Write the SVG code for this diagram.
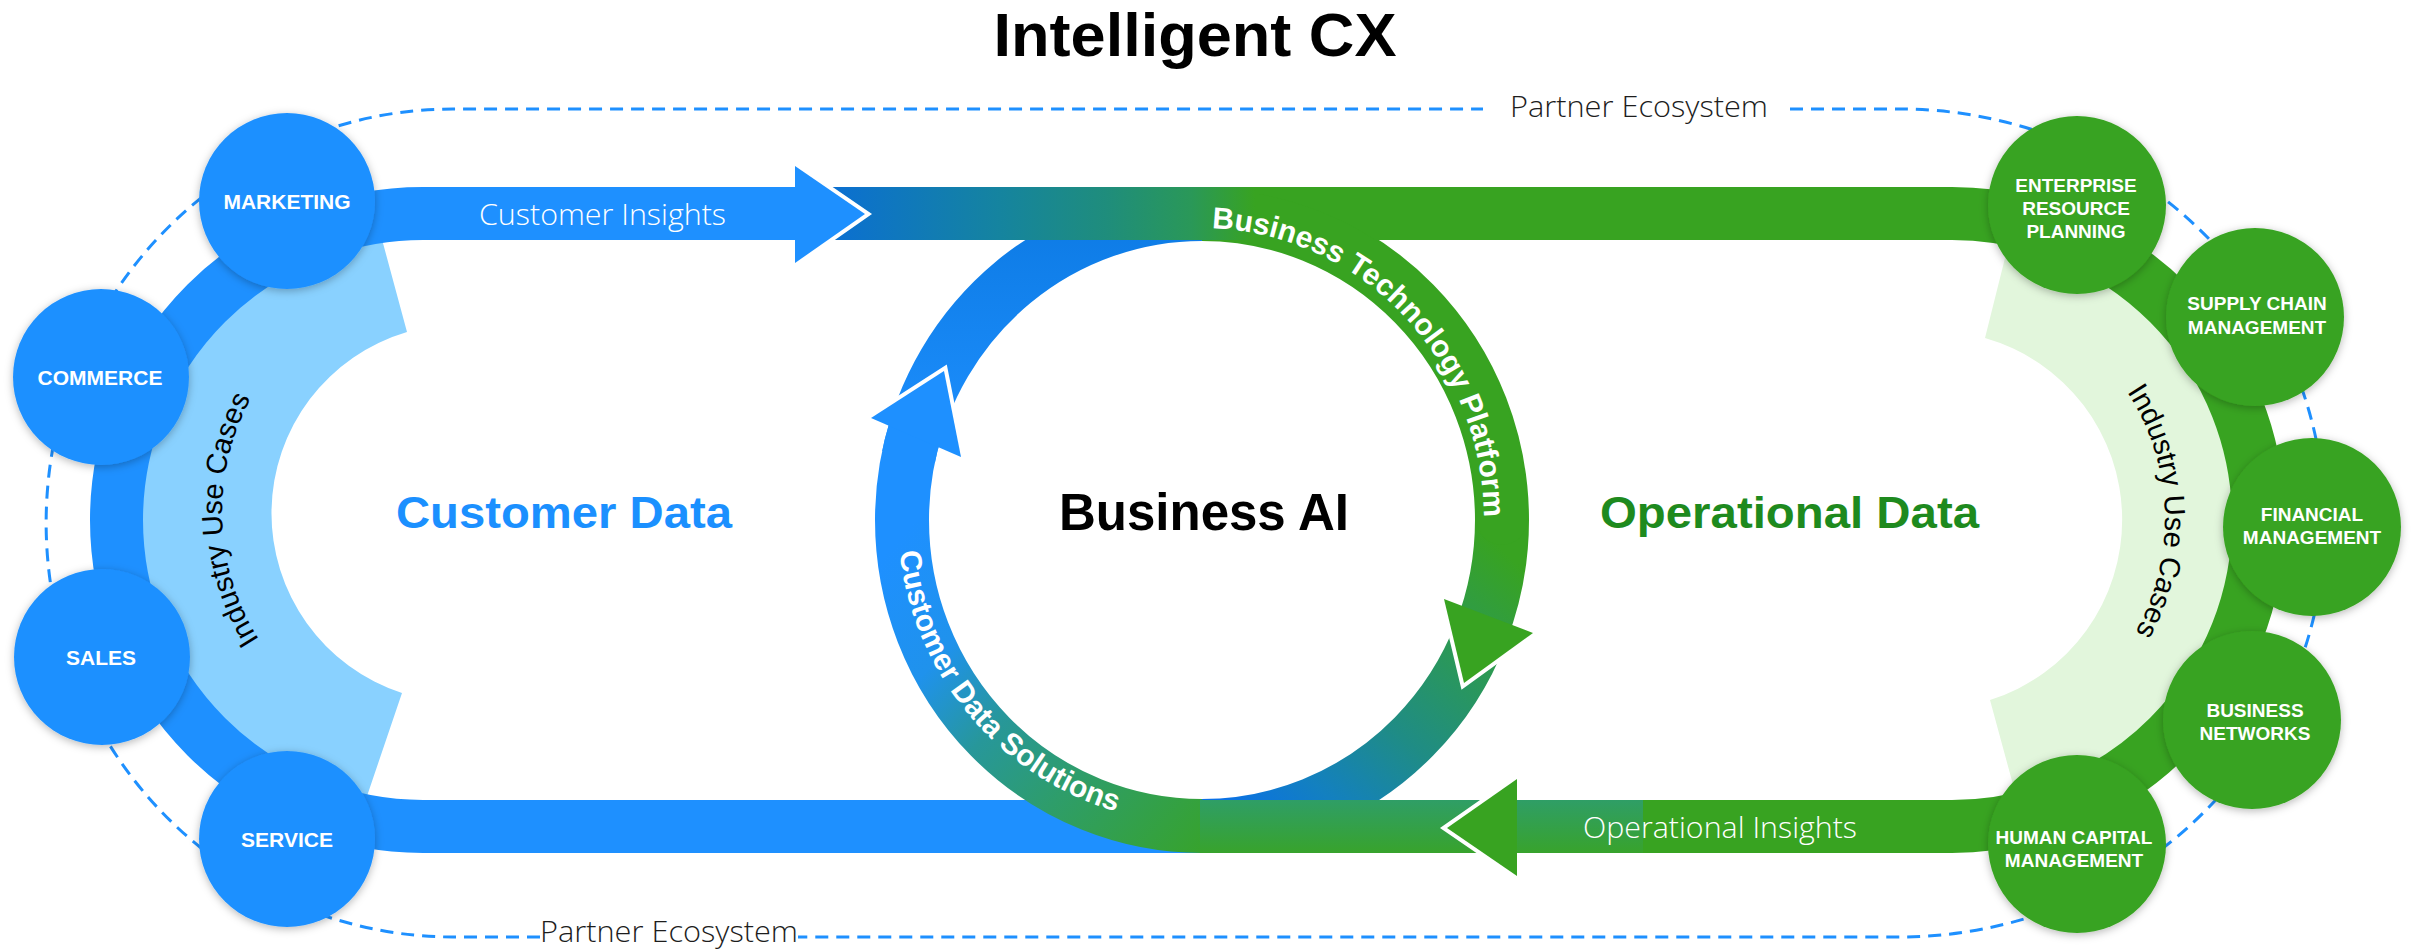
<svg xmlns="http://www.w3.org/2000/svg" width="2413" height="950" viewBox="0 0 2413 950">
<defs>
<style>
.lbl{font-family:"Liberation Sans",Arial,sans-serif;font-weight:bold;font-size:21px;fill:#fff;text-anchor:middle}
.lbl2{font-family:"Liberation Sans",Arial,sans-serif;font-weight:bold;font-size:19px;fill:#fff;text-anchor:middle}
.light{font-family:"Open Sans","Liberation Sans",sans-serif;font-weight:300;font-size:30px}
.ring{font-family:"Liberation Sans",Arial,sans-serif;font-weight:bold;font-size:30px;fill:#fff}
.iuc{font-family:"Liberation Sans",Arial,sans-serif;font-size:29px;fill:#000}
.dash{fill:none;stroke:#1e90ff;stroke-width:3;stroke-dasharray:13 8}
.blue{fill:#1e90ff}
.green{fill:#38a321}
.wedge{fill:none;stroke:#fff;stroke-width:8;stroke-linejoin:miter}
</style>
<filter id="sh" x="-20%" y="-20%" width="140%" height="140%">
<feDropShadow dx="0" dy="2" stdDeviation="4" flood-color="#000" flood-opacity="0.28"/>
</filter>
<linearGradient id="gTop" gradientUnits="userSpaceOnUse" x1="830" y1="0" x2="1255" y2="0">
<stop offset="0" stop-color="#0b6fd2"/>
<stop offset="0.4" stop-color="#15849f"/>
<stop offset="0.65" stop-color="#1f8d7c"/>
<stop offset="0.85" stop-color="#2a9858"/>
<stop offset="1" stop-color="#38a321"/>
</linearGradient>
<linearGradient id="gR" gradientUnits="userSpaceOnUse" x1="1480" y1="530" x2="1230" y2="810">
<stop offset="0" stop-color="#38a321"/>
<stop offset="0.25" stop-color="#2d9a50"/>
<stop offset="0.55" stop-color="#1f8c85"/>
<stop offset="0.8" stop-color="#1380c0"/>
<stop offset="1" stop-color="#0a70e6"/>
</linearGradient>
<linearGradient id="gBL" gradientUnits="userSpaceOnUse" x1="1202" y1="853" x2="880" y2="560">
<stop offset="0" stop-color="#37a32c"/>
<stop offset="0.33" stop-color="#2e9d6a"/>
<stop offset="0.55" stop-color="#27979a"/>
<stop offset="0.75" stop-color="#1f92ec"/>
<stop offset="1" stop-color="#1e90ff"/>
</linearGradient>
<linearGradient id="gTL" gradientUnits="userSpaceOnUse" x1="0" y1="460" x2="0" y2="230">
<stop offset="0" stop-color="#1e90ff"/>
<stop offset="1" stop-color="#0e7ce6"/>
</linearGradient>
<linearGradient id="gBot" x1="0" y1="0" x2="0" y2="1">
<stop offset="0" stop-color="#2f9e66"/>
<stop offset="1" stop-color="#38a32c"/>
</linearGradient>
<path id="pIucL" d="M 282.9 670.6 A 237 237 0 0 1 272.2 366.1"/>
<path id="pIucR" d="M 2105.4 363.8 A 232 232 0 0 1 2115.8 661.8"/>
<path id="pBTP" d="M 1211.8 228.2 A 282 292 0 0 1 1479.7 570.7"/>
<path id="pCDS" d="M 899.7 551.8 A 304 304 0 0 0 1175.5 822.8"/>
</defs>
<rect width="2413" height="950" fill="#fff"/>

<g id="partner-ecosystem">
<path class="dash" d="M 1790 109 H 1900 A 425 414 0 0 1 1900 937 H 798"/>
<path class="dash" d="M 540 937 H 453 A 407 414 0 0 1 453 109 H 1483"/>
<text class="light" x="1639" y="117" text-anchor="middle" textLength="258" lengthAdjust="spacingAndGlyphs" fill="#1d1d1d">Partner Ecosystem</text>
<text class="light" x="669" y="942" text-anchor="middle" textLength="258" lengthAdjust="spacingAndGlyphs" fill="#1d1d1d">Partner Ecosystem</text>
</g>

<g id="industry-use-cases-left">
<path fill="#89d1ff" d="M 407 332 L 380 232 A 290 290 0 0 0 365 802 L 402 693 A 189 189 0 0 1 407 332 Z"/>
</g>
<g id="industry-use-cases-right">
<path fill="#e2f6dc" d="M 1985 338 L 2010 238 A 290 290 0 0 1 2018 803 L 1990 700 A 189 189 0 0 0 1985 338 Z"/>
</g>

<g id="connectors">
<path d="M 830 213.5 H 423 A 306.5 306.5 0 0 0 116.5 520 A 306.5 306.5 0 0 0 423 826.5 H 1205" fill="none" stroke="#1e90ff" stroke-width="53"/>
<path d="M 1250 213.5 H 1952 A 306.5 306.5 0 0 1 2258.5 520 A 306.5 306.5 0 0 1 1952 826.5 H 1640" fill="none" stroke="#38a321" stroke-width="53"/>
<path d="M 1202 214 A 300 306 0 0 1 1502 520 A 300 306 0 0 1 1202 826" fill="none" stroke="url(#gR)" stroke-width="54"/>
<path d="M 1254.1 218.6 A 300 306 0 0 1 1502 520" fill="none" stroke="#38a321" stroke-width="50" stroke-linecap="round"/>
<path d="M 908.6 456.4 A 300 306 0 0 1 1202 214" fill="none" stroke="url(#gTL)" stroke-width="54"/>
<path d="M 1202 826 A 300 306 0 0 1 902 520 A 300 306 0 0 1 916.7 425.4" fill="none" stroke="url(#gBL)" stroke-width="54"/>
<rect x="1200" y="800" width="443" height="53" fill="url(#gBot)"/>
<rect x="828" y="187" width="430" height="53" fill="url(#gTop)"/>
<polyline class="wedge" points="795,166 865,214 795,263"/>
<polygon class="blue" points="795,166 865,214 795,263"/>
<polyline class="wedge" points="1517,779 1447,828 1517,876"/>
<polygon class="green" points="1517,779 1447,828 1517,876"/>
<polyline class="wedge" points="871,418 944,371 961,457"/>
<polygon class="blue" points="871,418 944,371 961,457"/>
<polyline class="wedge" points="1444,599 1464,683 1533,633"/>
<polygon class="green" points="1444,599 1464,683 1533,633"/>
<text class="light" x="602.5" y="225" text-anchor="middle" textLength="247" lengthAdjust="spacingAndGlyphs" fill="#fff">Customer Insights</text>
<text class="light" x="1720" y="838" text-anchor="middle" textLength="274" lengthAdjust="spacingAndGlyphs" fill="#fff">Operational Insights</text>
<text class="ring"><textPath href="#pBTP">Business Technology Platform</textPath></text>
<text class="ring"><textPath href="#pCDS">Customer Data Solutions</textPath></text>
<text class="iuc"><textPath href="#pIucL" startOffset="50%" text-anchor="middle">Industry Use Cases</textPath></text>
<text class="iuc"><textPath href="#pIucR" startOffset="50%" text-anchor="middle">Industry Use Cases</textPath></text>
</g>

<g id="title">
<text x="1195" y="56" font-family="Liberation Sans,Arial,sans-serif" font-weight="bold" font-size="61" text-anchor="middle" textLength="403" lengthAdjust="spacingAndGlyphs" fill="#000">Intelligent CX</text>
</g>
<g id="customer-data">
<text x="564" y="528" font-family="Liberation Sans,Arial,sans-serif" font-weight="bold" font-size="45" text-anchor="middle" textLength="336" lengthAdjust="spacingAndGlyphs" fill="#1b90ff">Customer Data</text>
</g>
<g id="operational-data">
<text x="1789.5" y="528" font-family="Liberation Sans,Arial,sans-serif" font-weight="bold" font-size="45" text-anchor="middle" textLength="379" lengthAdjust="spacingAndGlyphs" fill="#1e8a1e">Operational Data</text>
</g>
<g id="business-ai">
<text x="1204" y="530" font-family="Liberation Sans,Arial,sans-serif" font-weight="bold" font-size="51" text-anchor="middle" fill="#000">Business AI</text>
</g>

<g id="marketing"><circle class="blue" cx="287" cy="201" r="88" filter="url(#sh)"/><text class="lbl" x="287" y="209">MARKETING</text></g>
<g id="commerce"><circle class="blue" cx="101" cy="377" r="88" filter="url(#sh)"/><text class="lbl" x="100" y="385">COMMERCE</text></g>
<g id="sales"><circle class="blue" cx="102" cy="657" r="88" filter="url(#sh)"/><text class="lbl" x="101" y="665">SALES</text></g>
<g id="service"><circle class="blue" cx="287" cy="839" r="88" filter="url(#sh)"/><text class="lbl" x="287" y="847">SERVICE</text></g>

<g id="erp"><circle class="green" cx="2077" cy="205" r="89" filter="url(#sh)"/><text class="lbl2" x="2076" y="192">ENTERPRISE</text><text class="lbl2" x="2076" y="215">RESOURCE</text><text class="lbl2" x="2076" y="238">PLANNING</text></g>
<g id="scm"><circle class="green" cx="2255" cy="317" r="89" filter="url(#sh)"/><text class="lbl2" x="2257" y="310">SUPPLY CHAIN</text><text class="lbl2" x="2257" y="334">MANAGEMENT</text></g>
<g id="fm"><circle class="green" cx="2312" cy="527" r="89" filter="url(#sh)"/><text class="lbl2" x="2312" y="521">FINANCIAL</text><text class="lbl2" x="2312" y="544">MANAGEMENT</text></g>
<g id="bn"><circle class="green" cx="2252" cy="720" r="89" filter="url(#sh)"/><text class="lbl2" x="2255" y="717">BUSINESS</text><text class="lbl2" x="2255" y="740">NETWORKS</text></g>
<g id="hcm"><circle class="green" cx="2077" cy="844" r="89" filter="url(#sh)"/><text class="lbl2" x="2074" y="844">HUMAN CAPITAL</text><text class="lbl2" x="2074" y="867">MANAGEMENT</text></g>
</svg>
